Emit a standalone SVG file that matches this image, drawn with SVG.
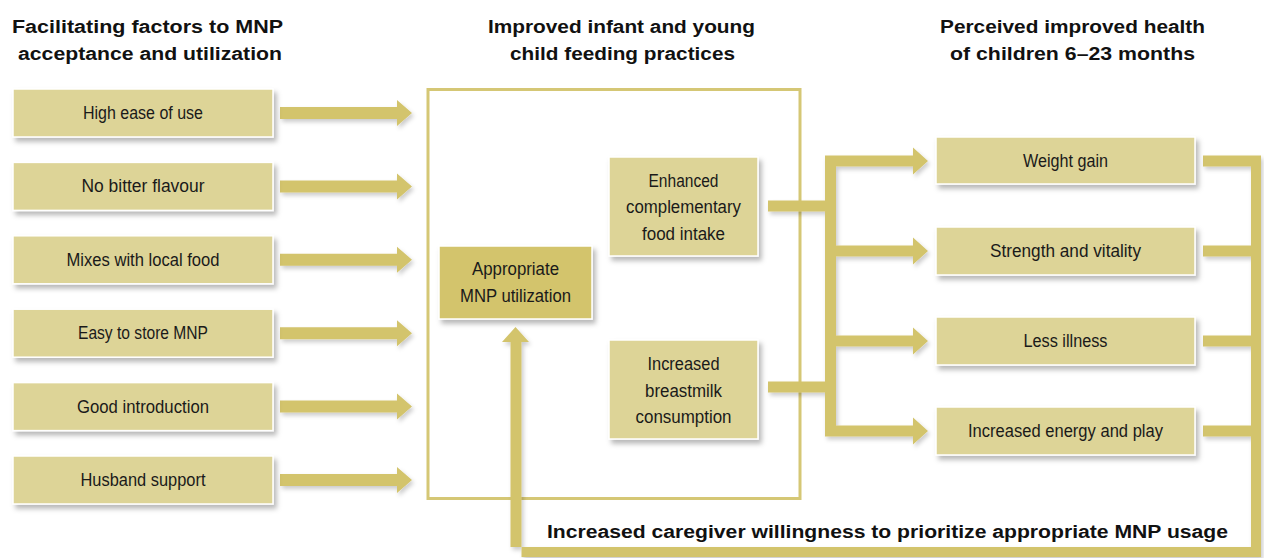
<svg xmlns="http://www.w3.org/2000/svg" width="1264" height="558" viewBox="0 0 1264 558">
<defs>
<filter id="sh" x="-10%" y="-20%" width="130%" height="160%">
<feDropShadow dx="3" dy="4" stdDeviation="2.5" flood-color="#000" flood-opacity="0.28"/>
</filter>
<filter id="ash" x="-10%" y="-20%" width="130%" height="160%">
<feDropShadow dx="2" dy="3" stdDeviation="2" flood-color="#000" flood-opacity="0.2"/>
</filter>
</defs>
<style>
.box{fill:#ddd497;stroke:#ffffff;stroke-width:1.5;filter:url(#sh)}
.dark{fill:#d3c46c;stroke:#ffffff;stroke-width:1.5;filter:url(#sh)}
.t{font-family:"Liberation Sans",Arial,sans-serif;font-size:17.5px;fill:#1a1a1a;text-anchor:middle}
.h{font-family:"Liberation Sans",Arial,sans-serif;font-size:18px;font-weight:bold;fill:#111;text-anchor:middle}
.cap{font-family:"Liberation Sans",Arial,sans-serif;font-size:18px;font-weight:bold;fill:#111}
.ar{fill:#d3c46c;filter:url(#ash)}
.frame{fill:none;stroke:#d5c775;stroke-width:3}
</style>

<g id="titles">
<text class="h" x="147.5" y="33" textLength="271" lengthAdjust="spacingAndGlyphs">Facilitating factors to MNP</text>
<text class="h" x="150" y="60" textLength="264" lengthAdjust="spacingAndGlyphs">acceptance and utilization</text>
<text class="h" x="621.5" y="33" textLength="267" lengthAdjust="spacingAndGlyphs">Improved infant and young</text>
<text class="h" x="622.5" y="60" textLength="225" lengthAdjust="spacingAndGlyphs">child feeding practices</text>
<text class="h" x="1072.5" y="33" textLength="265" lengthAdjust="spacingAndGlyphs">Perceived improved health</text>
<text class="h" x="1072.5" y="60" textLength="245" lengthAdjust="spacingAndGlyphs">of children 6–23 months</text>
</g>

<g id="frame">
<rect class="frame" x="428" y="89.5" width="372" height="409"/>
</g>

<g id="connectors">
<!-- left arrows -->
<polygon class="ar" points="280,107 397,107 397,100 412,113 397,126 397,119 280,119"/>
<polygon class="ar" points="280,180.4 397,180.4 397,173.4 412,186.4 397,199.4 397,192.4 280,192.4"/>
<polygon class="ar" points="280,253.8 397,253.8 397,246.8 412,259.8 397,272.8 397,265.8 280,265.8"/>
<polygon class="ar" points="280,327.2 397,327.2 397,320.2 412,333.2 397,346.2 397,339.2 280,339.2"/>
<polygon class="ar" points="280,400.6 397,400.6 397,393.6 412,406.6 397,419.6 397,412.6 280,412.6"/>
<polygon class="ar" points="280,474 397,474 397,467 412,480 397,493 397,486 280,486"/>
<!-- middle tree -->
<path class="ar" d="M768,200.5 H825 V155.5 H913 V147.5 L928,161 L913,174.5 V166.5 H836 V245.5 H913 V237.5 L928,251 L913,264.5 V256.5 H836 V335.5 H913 V327.5 L928,341 L913,354.5 V346.5 H836 V425.5 H913 V417.5 L928,431 L913,444.5 V436.5 H825 V392.5 H768 V381.5 H825 V211.5 H768 Z"/>
<!-- feedback loop -->
<path class="ar" d="M1203,155.5 H1261 V557 H521.5 V342 H529 L515.5,327 L502,342 H510.5 V547 H1251 V436.5 H1203 V425.5 H1251 V346.5 H1203 V335.5 H1251 V256.5 H1203 V245.5 H1251 V166.5 H1203 Z"/>
</g>

<g id="n1"><rect class="box" x="13" y="89" width="260" height="48"/><text class="t" x="143" y="119" textLength="120" lengthAdjust="spacingAndGlyphs">High ease of use</text></g>
<g id="n2"><rect class="box" x="13" y="162.4" width="260" height="48"/><text class="t" x="143" y="192.4" textLength="123" lengthAdjust="spacingAndGlyphs">No bitter flavour</text></g>
<g id="n3"><rect class="box" x="13" y="235.8" width="260" height="48"/><text class="t" x="143" y="265.8" textLength="153" lengthAdjust="spacingAndGlyphs">Mixes with local food</text></g>
<g id="n4"><rect class="box" x="13" y="309.2" width="260" height="48"/><text class="t" x="143" y="339.2" textLength="130" lengthAdjust="spacingAndGlyphs">Easy to store MNP</text></g>
<g id="n5"><rect class="box" x="13" y="382.6" width="260" height="48"/><text class="t" x="143" y="412.6" textLength="132" lengthAdjust="spacingAndGlyphs">Good introduction</text></g>
<g id="n6"><rect class="box" x="13" y="456" width="260" height="48"/><text class="t" x="143" y="486" textLength="125" lengthAdjust="spacingAndGlyphs">Husband support</text></g>

<g id="appropriate"><rect class="dark" x="439" y="246" width="153" height="73"/>
<text class="t" x="515.5" y="275" textLength="87" lengthAdjust="spacingAndGlyphs">Appropriate</text>
<text class="t" x="515.5" y="302" textLength="111" lengthAdjust="spacingAndGlyphs">MNP utilization</text></g>

<g id="enhanced"><rect class="box" x="609" y="157" width="149" height="99"/>
<text class="t" x="683.5" y="187" textLength="70" lengthAdjust="spacingAndGlyphs">Enhanced</text>
<text class="t" x="683.5" y="213" textLength="115" lengthAdjust="spacingAndGlyphs">complementary</text>
<text class="t" x="683.5" y="240" textLength="83" lengthAdjust="spacingAndGlyphs">food intake</text></g>

<g id="breastmilk"><rect class="box" x="609" y="340" width="149" height="99"/>
<text class="t" x="683.5" y="370" textLength="72" lengthAdjust="spacingAndGlyphs">Increased</text>
<text class="t" x="683.5" y="397" textLength="77" lengthAdjust="spacingAndGlyphs">breastmilk</text>
<text class="t" x="683.5" y="423" textLength="96" lengthAdjust="spacingAndGlyphs">consumption</text></g>

<g id="r1"><rect class="box" x="936" y="137" width="259" height="47"/><text class="t" x="1065.5" y="167" textLength="85" lengthAdjust="spacingAndGlyphs">Weight gain</text></g>
<g id="r2"><rect class="box" x="936" y="227" width="259" height="48"/><text class="t" x="1065.5" y="257" textLength="151" lengthAdjust="spacingAndGlyphs">Strength and vitality</text></g>
<g id="r3"><rect class="box" x="936" y="317" width="259" height="48"/><text class="t" x="1065.5" y="347" textLength="84" lengthAdjust="spacingAndGlyphs">Less illness</text></g>
<g id="r4"><rect class="box" x="936" y="407" width="259" height="48"/><text class="t" x="1065.5" y="437" textLength="195" lengthAdjust="spacingAndGlyphs">Increased energy and play</text></g>

<g id="caption">
<text class="cap" x="547" y="538" textLength="681" lengthAdjust="spacingAndGlyphs">Increased caregiver willingness to prioritize appropriate MNP usage</text>
</g>
</svg>
